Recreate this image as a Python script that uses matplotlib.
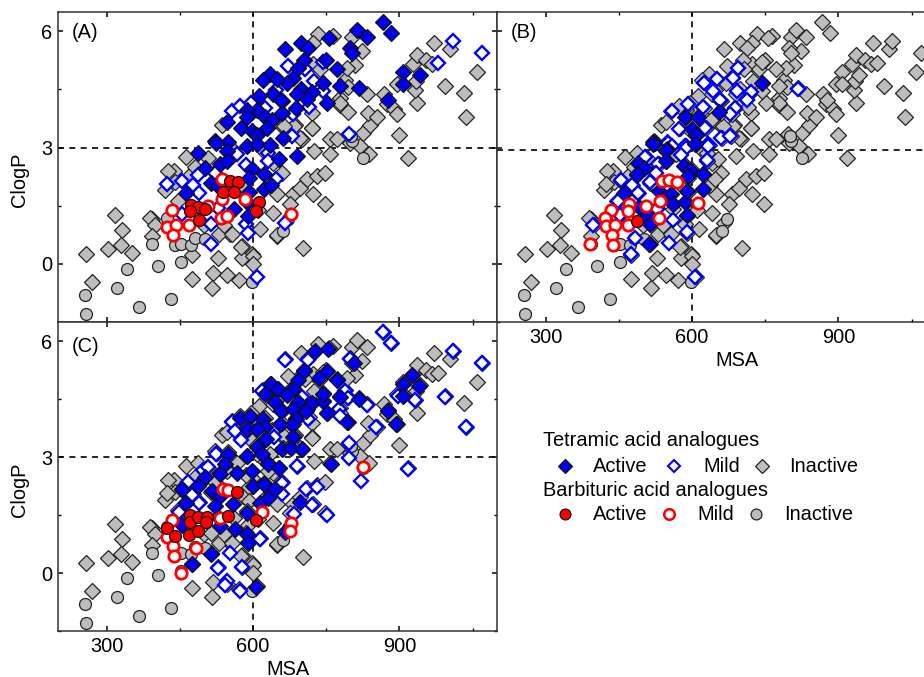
import numpy as np
import matplotlib
matplotlib.use('Agg')
import matplotlib.pyplot as plt
from matplotlib.lines import Line2D

plt.rcParams['font.family'] = ['Liberation Sans', 'DejaVu Sans']
plt.rcParams['font.size'] = 14.4

# tetramic acid analogues (MSA, ClogP)
gray_diamonds = [(734,5.93),(764,5.88),(803,5.85),(824,5.49),(808,5.13),(723,5.70),(723,5.15),(738,5.03),
    (789,4.74),(795,4.56),(834,4.38),(779,4.28),(779,4.10),(795,3.92),(721,3.89),(721,3.51),(686,3.58),(662,3.53),
    (700,3.22),(758,3.22),(773,3.22),(799,3.12),(820,3.04),(826,3.38),(840,3.58),(836,3.89),(853,3.79),(900,3.32),
    (917,2.73),(838,2.84),(758,2.84),(725,2.91),(869,4.38),(875,4.12),(888,3.99),(894,3.87),(937,4.15),(931,4.48),
    (933,4.72),(896,4.64),(927,5.15),(937,5.39),(954,5.26),(966,5.15),(970,5.70),(1003,5.54),(1060,4.95),(993,4.59),
    (1032,4.41),(1036,3.79),(536,3.58),(684,3.55),(664,3.55),(721,3.50),(779,4.15),(793,5.05),(462,2.76),(438,2.40),
    (508,2.73),(392,1.16),(660,2.35),(614,0.90),(649,0.72),(703,0.41),(577,0.46),(528,0.15),(598,0.26),(553,0.77),
    (530,0.77),(682,1.80),(676,1.55),(723,1.80),(697,1.96),(711,2.19),(730,2.27),(748,2.35),(748,1.55),(697,3.25),
    (316,1.26),(331,0.88),(388,1.19),(399,1.01),(392,0.72),(329,0.49),(302,0.39),(351,0.28),(257,0.26),(475,0.23),
    (269,-0.46),(475,-0.39),(518,-0.23),(547,-0.28),(571,-0.41),(516,-0.62),(577,0.15),(600,0.21),(600,0.0),
    (575,0.44),(557,0.77),(649,0.75),(446,1.62),(426,2.40),(470,2.30),(560,2.90),(620,2.95),(650,1.80),(610,1.40),
    (640,2.60),(500,1.00),(540,1.00),(580,2.00),(640,1.30),(440,2.10),(480,2.50),(420,1.90)]
gray_circles = [(255,-0.80),(257,-1.29),(321,-0.62),(366,-1.11),(431,-0.90),(341,-0.13),(405,-0.05),(452,0.05),
    (392,0.52),(440,0.49),(452,0.52),(473,0.49),(481,0.67),(501,0.64),(598,-0.46),(423,1.19),(803,3.17),(826,2.73),
    (662,0.85),(672,1.16),(800,3.30)]

a_active = [(867,6.24),(882,5.95),(814,6.03),(834,5.85),(756,5.82),(666,5.54),(699,5.70),(713,5.57),(799,5.57),
    (803,5.44),(705,5.26),(692,5.05),(750,5.26),(773,5.03),(682,4.79),(670,4.66),(744,4.66),(779,4.59),(818,4.54),
    (699,4.51),(721,4.43),(690,4.38),(711,4.25),(752,4.15),(660,4.20),(688,4.02),(660,3.89),(877,4.23),(908,4.95),
    (943,4.87),(908,4.64),(662,3.25),(690,2.78),(635,4.90),(621,4.74),(649,4.77),(612,4.33),(641,4.38),(658,4.23),
    (608,3.97),(588,3.97),(625,3.79),(639,3.71),(588,3.79),(547,3.66),(575,3.51),(598,3.43),(629,3.51),(608,3.32),
    (522,3.17),(549,3.14),(524,3.12),(547,2.91),(588,3.04),(608,3.09),(635,3.07),(487,2.86),(501,2.47),(532,2.58),
    (547,2.65),(598,2.45),(623,2.32),(592,2.22),(514,2.09),(528,2.01),(623,1.93),(637,2.04),(592,1.86),(462,1.83),
    (588,1.60),(561,1.42),(590,1.24),(653,2.71)]
a_mild = [(1009,5.75),(1069,5.44),(980,5.18),(797,3.35),(672,5.10),(744,5.20),(707,5.03),(725,4.72),(744,4.46),
    (715,4.05),(682,3.87),(680,3.30),(557,3.94),(573,4.07),(596,4.15),(625,4.02),(647,4.48),(423,2.06),(454,2.14),
    (477,2.04),(487,2.29),(489,1.83),(522,2.35),(567,2.84),(586,2.55),(631,2.86),(631,2.65),(647,2.19),(514,1.03),
    (586,1.03),(590,0.80),(666,1.06),(514,0.52),(454,1.29),(528,1.44),(608,-0.34)]

b_active = [(744,4.66),(656,3.92),(586,3.79),(612,3.79),(600,3.48),(608,3.32),(606,3.09),(520,3.14),(549,2.96),
    (520,3.09),(547,2.94),(547,2.65),(489,2.60),(501,2.47),(487,2.32),(584,2.53),(596,2.42),(592,2.27),(623,2.32),
    (532,1.88),(557,1.80),(538,1.68),(561,1.55),(586,1.60),(590,1.88),(623,1.93),(491,1.47),(507,1.26),(514,1.03),
    (590,1.26),(460,1.83),(512,0.52)]
b_mild = [(695,5.05),(651,4.77),(684,4.79),(625,4.66),(643,4.46),(692,4.46),(721,4.43),(658,4.23),(713,4.23),
    (688,4.02),(678,3.87),(559,3.94),(592,4.12),(623,4.05),(573,3.48),(627,3.51),(660,3.25),(678,3.30),(633,3.09),
    (551,3.12),(586,3.04),(818,4.51),(559,3.04),(588,2.99),(633,3.04),(577,2.81),(631,2.68),(503,2.76),(530,2.58),
    (526,2.35),(514,2.11),(454,2.16),(477,2.04),(489,1.83),(448,1.62),(397,1.01),(483,0.67),(561,1.13),(590,0.82),
    (553,0.54),(475,0.26),(528,1.42),(452,1.26),(606,-0.34)]

c_active = [(727,5.75),(754,5.80),(806,5.44),(705,5.23),(692,5.00),(752,5.23),(736,5.05),(773,5.00),(637,4.90),
    (651,4.77),(625,4.64),(682,4.77),(670,4.62),(645,4.43),(692,4.43),(721,4.41),(744,4.46),(744,4.64),(779,4.56),
    (818,4.51),(658,4.20),(682,4.25),(709,4.20),(752,4.15),(656,3.87),(688,4.00),(680,3.84),(793,3.92),(573,4.02),
    (594,4.07),(621,4.00),(588,3.74),(625,3.79),(608,3.74),(627,3.48),(682,3.53),(608,3.27),(660,3.22),(678,3.25),
    (701,3.20),(549,3.09),(588,3.02),(619,3.09),(908,4.90),(925,5.13),(941,4.85),(908,4.59),(877,4.19),(892,3.87),
    (760,2.82),(542,2.82),(631,2.82),(653,2.72),(501,2.48),(532,2.56),(567,2.59),(598,2.64),(487,2.25),(454,2.17),
    (516,2.12),(600,2.25),(623,2.30),(645,2.17),(462,1.81),(532,1.99),(559,1.78),(614,1.81),(631,1.94),(522,1.73),
    (588,1.55),(563,1.14),(588,1.01),(532,1.22),(454,1.24),(590,0.78),(666,1.06),(697,1.84),(514,0.49),(475,0.23),
    (606,-0.36)]
c_mild = [(666,5.52),(713,5.52),(799,5.54),(619,4.72),(789,4.72),(795,4.54),(834,4.36),(777,4.25),(779,4.07),
    (713,4.00),(557,3.92),(563,3.69),(643,3.51),(575,3.45),(526,3.09),(797,3.38),(797,2.97),(851,3.77),(701,4.56),
    (867,6.23),(882,5.95),(1009,5.75),(1069,5.44),(898,4.59),(931,4.49),(993,4.56),(1036,3.79),(917,2.69),(822,2.38),
    (752,1.50),(690,2.77),(660,2.33),(660,2.04),(709,2.17),(730,2.22),(721,1.76),(684,1.53),(614,0.88),(553,0.52),
    (577,0.15),(528,0.13),(489,1.81),(475,2.02),(466,2.35),(497,2.66),(508,2.74),(448,1.58),(524,3.07),(547,-0.21),
    (542,-0.31),(573,-0.47)]

# barbituric acid analogues
a_barb_active = [(473,1.52),(487,1.47),(501,1.42),(471,1.37),(489,1.13),(553,2.14),(569,2.11),(538,1.86),(561,1.86),
    (612,1.60),(606,1.37)]
a_barb_mild = [(434,1.39),(423,0.95),(442,1.01),(436,0.75),(469,1.01),(508,1.49),(534,1.19),(547,1.24),(678,1.29),
    (536,2.19),(536,1.68),(583,1.68)]
b_barb_active = [(487,1.11)]
b_barb_mild = [(434,1.39),(421,1.19),(423,0.98),(442,1.01),(436,0.75),(438,0.49),(469,1.01),(471,1.55),(469,1.37),
    (505,1.49),(532,1.19),(538,2.14),(553,2.16),(569,2.11),(612,1.57),(534,1.62),(390,0.52)]
c_barb_active = [(423,1.16),(440,0.96),(469,0.98),(487,1.09),(471,1.50),(471,1.32),(487,1.45),(505,1.45),(503,1.32),
    (549,1.47),(567,2.09),(606,1.37)]
c_barb_mild = [(434,1.37),(423,0.93),(436,0.70),(438,0.44),(483,0.65),(452,0.0),(678,1.29),(676,1.09),(538,2.17),
    (549,2.15),(618,1.58),(532,1.42),(826,2.74)]

W, H = 924, 677


def make_axes(left, top, right, bottom):
    return fig.add_axes([left / W, 1 - bottom / H, (right - left) / W, (bottom - top) / H])


def scatter(ax, pts, marker, face, edge, size, lw, z):
    pts = np.array(pts)
    ax.plot(pts[:, 0], pts[:, 1], ls='none', marker=marker, ms=size, mfc=face, mec=edge, mew=lw, zorder=z)


def draw_panel(ax, letter, letter_y, gray, active, mild, barb_active, barb_mild, hline=3):
    scatter(ax, gray, 'D', '#bdbdbd', '#222222', 8.0, 0.9, 3)
    scatter(ax, gray_circles, 'o', '#bdbdbd', '#222222', 8.6, 0.9, 3)
    scatter(ax, mild, 'D', 'white', '#0000ff', 7.0, 1.7, 4)
    scatter(ax, active, 'D', '#0000ee', '#111111', 8.0, 0.9, 5)
    scatter(ax, barb_mild, 'o', 'white', '#ff0000', 8.2, 2.0, 6)
    scatter(ax, barb_active, 'o', '#ff0000', '#111111', 8.6, 0.9, 7)

    ax.axvline(600, color='black', ls=(0, (3.6, 3.2)), lw=1.2, zorder=2)
    ax.axhline(hline, color='black', ls=(0, (3.6, 3.2)), lw=1.2, zorder=2)
    ax.set_xlim(200, 1100)
    ax.set_ylim(-1.5, 6.5)
    ax.set_xticks([300, 600, 900])
    ax.set_xticks([450, 750, 1050], minor=True)
    ax.set_yticks([0, 3, 6])
    ax.set_yticks([-1.5, 1.5, 4.5], minor=True)
    ax.tick_params(which='major', direction='in', length=3.6, width=1.1, top=True, right=True, labelsize=14.4, pad=4.3)
    ax.tick_params(which='minor', direction='in', length=2, width=1, top=True, right=True)
    for s in ax.spines.values():
        s.set_linewidth(1.1)
        s.set_color('#333333')
    ax.text(0.032, letter_y, letter, transform=ax.transAxes, fontsize=14.4, ha='left', va='center', zorder=10)


fig = plt.figure(figsize=(W / 100, H / 100), dpi=100)

ax_a = make_axes(58, 12, 497, 322)
ax_b = make_axes(497, 12, 936, 322)
ax_c = make_axes(58, 322, 497, 631)

all_tetramic = gray_diamonds + a_active + a_mild

draw_panel(ax_a, '(A)', 0.935, gray_diamonds, a_active, a_mild, a_barb_active, a_barb_mild)
draw_panel(ax_b, '(B)', 0.935, all_tetramic, b_active, b_mild, b_barb_active, b_barb_mild, hline=2.95)
draw_panel(ax_c, '(C)', 0.92, all_tetramic, c_active, c_mild, c_barb_active, c_barb_mild)

ax_a.tick_params(labelbottom=False)
ax_b.tick_params(labelleft=False)
for ax in [ax_a, ax_c]:
    ax.set_ylabel('ClogP', fontsize=14.4, va='center')
    ax.yaxis.set_label_coords(-0.087, 0.458)
ax_b.set_xlabel('MSA', fontsize=14.4, va='center')
ax_b.xaxis.set_label_coords(0.547, -0.123)
ax_c.set_xlabel('MSA', fontsize=14.4, va='center')
ax_c.xaxis.set_label_coords(0.524, -0.123)

# legend is laid out by hand, rows of marker + word
def legend_mark(x, y, marker, face, edge, size, lw):
    fig.add_artist(Line2D([x / W], [1 - y / H], transform=fig.transFigure, ls='none', marker=marker, ms=size,
                          mfc=face, mec=edge, mew=lw))


def legend_text(x, y, s):
    fig.text(x / W, 1 - y / H, s, fontsize=14.4, ha='left', va='center')


legend_text(543, 441, 'Tetramic acid analogues')
legend_mark(565, 466, 'D', '#0000ee', '#111111', 7.0, 0.9)
legend_text(593, 466, 'Active')
legend_mark(674, 466, 'D', 'white', '#0000ff', 6.2, 1.5)
legend_text(703, 466, 'Mild')
legend_mark(762, 466, 'D', '#bdbdbd', '#222222', 7.0, 0.9)
legend_text(789, 466, 'Inactive')
legend_text(543, 491, 'Barbituric acid analogues')
legend_mark(565, 514, 'o', '#ff0000', '#111111', 7.8, 0.9)
legend_text(593, 514, 'Active')
legend_mark(669, 514, 'o', 'white', '#ff0000', 7.6, 1.8)
legend_text(697, 514, 'Mild')
legend_mark(756, 514, 'o', '#bdbdbd', '#222222', 7.8, 0.9)
legend_text(784, 514, 'Inactive')

fig.savefig('out.png', dpi=100)
